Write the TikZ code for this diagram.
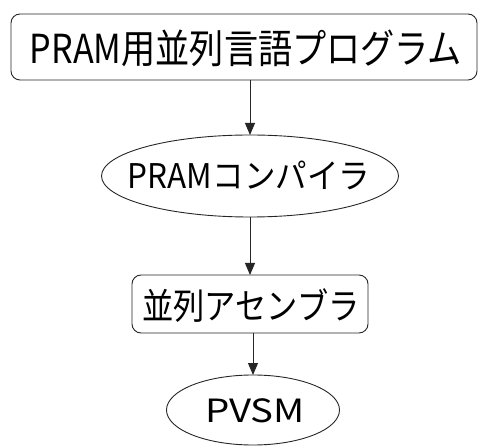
\documentclass[tikz,border=0pt]{standalone}
\usepackage{fontspec}
\usepackage{graphicx}
\setmainfont{Noto Sans CJK JP}
\usetikzlibrary{shapes.geometric,arrows.meta}
\begin{document}
\begin{tikzpicture}[x=1pt,y=-1pt,
  shapebox/.style={inner sep=0pt, outer sep=0pt, line width=0.9pt, draw=black!85},
  rbox/.style={shapebox, rectangle, rounded corners=9pt},
  oval/.style={shapebox, ellipse},
  lbl/.style={inner sep=0pt, outer sep=0pt},
  flow/.style={line width=0.9pt, draw=black!85, -{Triangle[length=12pt,width=10pt]}}]
\useasboundingbox (0,0) rectangle (479,446);
\node[rbox, minimum width=466pt, minimum height=66pt] (b1) at (244,47) {};
\node[lbl, font=\fontsize{40}{44}\selectfont] (b1t) at (246,48) {\resizebox{432pt}{\height}{PRAM用並列言語プログラム}};
\node[oval, minimum width=297pt, minimum height=82pt] (e1) at (250,176) {};
\node[lbl, font=\fontsize{34}{38}\selectfont] (e1t) at (249,175) {\resizebox{242pt}{\height}{PRAMコンパイラ}};
\node[rbox, minimum width=236pt, minimum height=58pt] (b2) at (250,304) {};
\node[lbl, font=\fontsize{36}{40}\selectfont] (b2t) at (251,306) {\resizebox{217pt}{\height}{並列アセンブラ}};
\node[oval, minimum width=173pt, minimum height=70pt] (e2) at (253,410) {};
\node[lbl, font=\fontsize{32}{36}\selectfont] (e2t) at (255,411) {\resizebox{100pt}{\height}{PVSM}};
\draw[flow] (e1.north |- b1.south) -- (e1.north);
\draw[flow] (e1.south) -- (b2.north -| e1.south);
\draw[flow] (e2.north |- b2.south) -- (e2.north);
\end{tikzpicture}
\end{document}
